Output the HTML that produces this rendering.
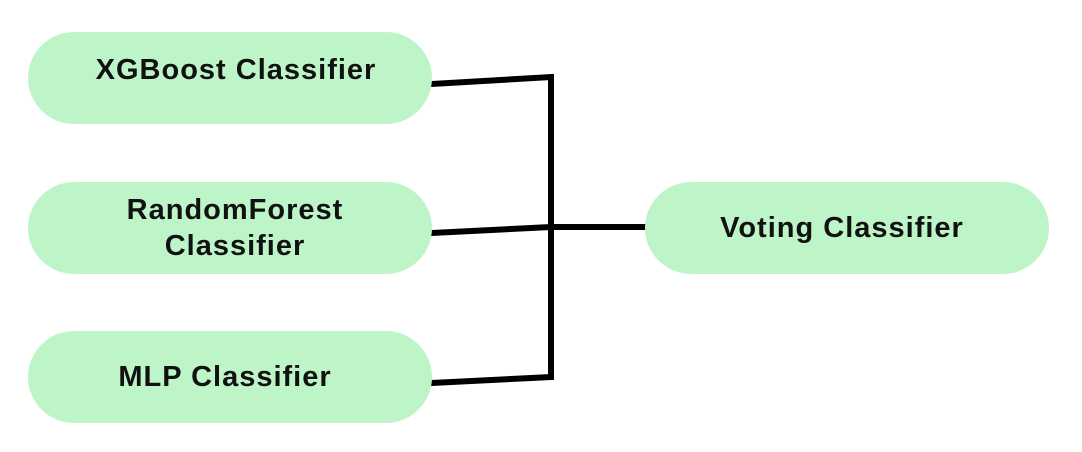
<!DOCTYPE html>
<html><head><style>
html,body{margin:0;padding:0;background:#fff;}
body{width:1082px;height:452px;position:relative;overflow:hidden;font-family:"Liberation Sans",sans-serif;}
.b{position:absolute;background:#bef5c8;border-radius:46px;display:flex;align-items:center;justify-content:center;text-align:center;font-weight:bold;font-size:29px;letter-spacing:1px;color:#111;line-height:36px;}
</style></head><body>
<svg width="1082" height="452" style="position:absolute;left:0;top:0">
<g stroke="#000" stroke-width="6" fill="none" stroke-linecap="square">
<polyline points="432,84 551,77 551,377 432,383"/>
<polyline points="432,233 551,227 645,227"/>
</g></svg>
<div class="b" style="left:28px;top:32px;width:404px;height:92px;"><span style="margin-left:12px;margin-top:-16px">XGBoost Classifier</span></div>
<div class="b" style="left:28px;top:182px;width:404px;height:92px;"><span style="margin-left:10px">RandomForest<br>Classifier</span></div>
<div class="b" style="left:28px;top:331px;width:404px;height:92px;"><span style="margin-left:-10px">MLP Classifier</span></div>
<div class="b" style="left:645px;top:182px;width:404px;height:92px;"><span style="margin-left:-10px">Voting Classifier</span></div>
</body></html>
